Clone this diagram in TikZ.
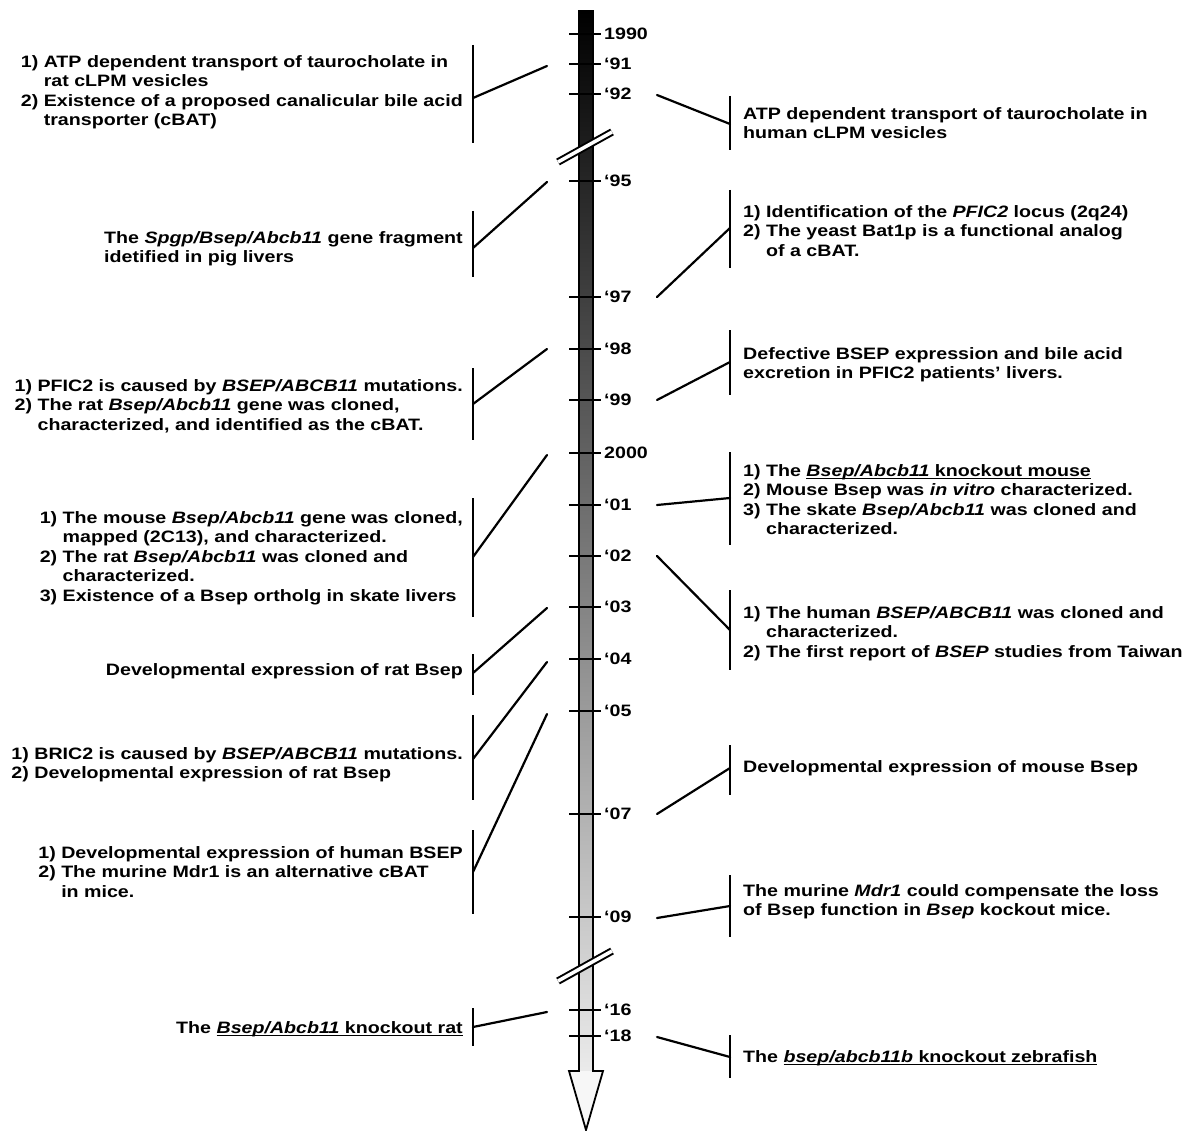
\documentclass[tikz,border=0pt]{standalone}
\usepackage{fontspec}
\setmainfont{Liberation Sans}[FakeStretch=1.19]
% underline drawn at a fixed depth below the baseline
\newcommand\ulbar[1]{\leavevmode\setbox0=\hbox{#1}\rlap{\rule[-3pt]{\wd0}{1.5pt}}\box0}
% hanging indent for continuation lines of numbered items
\newcommand\ind{\hphantom{1)\ }}
\begin{document}
\begin{tikzpicture}[x=1pt,y=-1pt,
  txt/.style={inner sep=0pt, align=left, font=\fontsize{16.5}{19.6}\selectfont\bfseries},
  lefttxt/.style={txt, anchor=north east},
  righttxt/.style={txt, anchor=north west},
  yearlab/.style={inner sep=0pt, anchor=west, font=\fontsize{16.5}{19.6}\selectfont\bfseries},
  tickmark/.style={line width=2.4pt},
  bracket/.style={line width=2.2pt},
  conn/.style={line width=2.2pt, line cap=round},
  breakmark/.style={line width=7.5pt},
  breakgap/.style={line width=3.5pt, white}
]
\useasboundingbox (0,0) rectangle (1198,1131);

% ---- time axis: shaded shaft and open arrow head ----
\shade[top color=black, bottom color=black!8] (579,11) rectangle (593,1071);
\fill[black!3] (569,1071) -- (586,1130) -- (603,1071) -- cycle;
\draw[line width=1.8pt, line join=miter]
  (579,11) -- (579,1071) -- (569,1071) -- (586,1130) -- (603,1071) -- (593,1071) -- (593,11) -- cycle;

% ---- axis breaks ----
\coordinate (bA1) at (558,162); \coordinate (bA2) at (612,132);
\coordinate (bB1) at (558,981); \coordinate (bB2) at (612,951);
\draw[breakmark] (bA1) -- (bA2);
\draw[breakgap] (bA1) -- (bA2);
\draw[breakmark] (bB1) -- (bB2);
\draw[breakgap] (bB1) -- (bB2);

% ---- year ticks and labels ----
\foreach \nm/\yy/\lab in {90/34/1990, 91/64/‘91, 92/94/‘92, 95/181/‘95, 97/297/‘97,
    98/349/‘98, 99/400/‘99, 00/453/2000, 01/505/‘01, 02/556/‘02, 03/607/‘03,
    04/659/‘04, 05/711/‘05, 07/814/‘07, 09/917/‘09, 16/1010/‘16, 18/1036/‘18}{
  \coordinate (t\nm) at (586,\yy);
  \draw[tickmark] ([xshift=-17pt]t\nm) -- ([xshift=15pt]t\nm);
  \node[yearlab] (y\nm) at ([xshift=18pt]t\nm) {\lab};
}

% ---- left-hand events ----
\node[lefttxt] (L1) at (463,55) {1) ATP dependent transport of taurocholate in\\
\ind rat cLPM vesicles\\
2) Existence of a proposed canalicular bile acid\\
\ind transporter (cBAT)};
\node[lefttxt] (L2) at (463,231) {The \textit{Spgp/Bsep/Abcb11} gene fragment\\
idetified in pig livers};
\node[lefttxt] (L3) at (463,379) {1) PFIC2 is caused by \textit{BSEP/ABCB11} mutations.\\
2) The rat \textit{Bsep/Abcb11} gene was cloned,\\
\ind characterized, and identified as the cBAT.};
\node[lefttxt] (L4) at (463,511) {1) The mouse \textit{Bsep/Abcb11} gene was cloned,\\
\ind mapped (2C13), and characterized.\\
2) The rat \textit{Bsep/Abcb11} was cloned and\\
\ind characterized.\\
3) Existence of a Bsep ortholg in skate livers};
\node[lefttxt] (L5) at (463,663) {Developmental expression of rat Bsep};
\node[lefttxt] (L6) at (463,747) {1) BRIC2 is caused by \textit{BSEP/ABCB11} mutations.\\
2) Developmental expression of rat Bsep};
\node[lefttxt] (L7) at (463,846) {1) Developmental expression of human BSEP\\
2) The murine Mdr1 is an alternative cBAT\\
\ind in mice.};
\node[lefttxt] (L8) at (463,1021) {The \ulbar{\textit{Bsep/Abcb11} knockout rat}};

% left brackets: top, bottom, joint, and end near the axis
\foreach \k/\ta/\bo/\jo/\ey in {1/45/143/98/66, 2/211/277/248/182, 3/368/440/404/349,
    4/498/617/557/455, 5/654/695/673/608, 6/715/800/759/662, 7/830/914/872/714,
    8/1008/1046/1027/1012}{
  \coordinate (Lt\k) at (473,\ta);
  \coordinate (Lb\k) at (473,\bo);
  \coordinate (Lj\k) at (473,\jo);
  \coordinate (Le\k) at (547,\ey);
  \draw[bracket] (Lt\k) -- (Lb\k);
  \draw[conn] (Lj\k) -- (Le\k);
}

% ---- right-hand events ----
\node[righttxt] (R1) at (743,107) {ATP dependent transport of taurocholate in\\
human cLPM vesicles};
\node[righttxt] (R2) at (743,205) {1) Identification of the \textit{PFIC2} locus (2q24)\\
2) The yeast Bat1p is a functional analog\\
\ind of a cBAT.};
\node[righttxt] (R3) at (743,347) {Defective BSEP expression and bile acid\\
excretion in PFIC2 patients’ livers.};
\node[righttxt] (R4) at (743,464) {1) The \ulbar{\textit{Bsep/Abcb11} knockout mouse}\\
2) Mouse Bsep was \textit{in vitro} characterized.\\
3) The skate \textit{Bsep/Abcb11} was cloned and\\
\ind characterized.};
\node[righttxt] (R5) at (743,606) {1) The human \textit{BSEP/ABCB11} was cloned and\\
\ind characterized.\\
2) The first report of \textit{BSEP} studies from Taiwan};
\node[righttxt] (R6) at (743,760) {Developmental expression of mouse Bsep};
\node[righttxt] (R7) at (743,884) {The murine \textit{Mdr1} could compensate the loss\\
of Bsep function in \textit{Bsep} kockout mice.};
\node[righttxt] (R8) at (743,1050) {The \ulbar{\textit{bsep/abcb11b} knockout zebrafish}};

% right brackets: top, bottom, joint, and start near the axis
\foreach \k/\ta/\bo/\jo/\sy in {1/96/150/124/95, 2/190/268/228/297, 3/330/395/362/400,
    4/452/545/498/505, 5/590/670/630/556, 6/745/795/768/814, 7/875/937/906/918,
    8/1035/1078/1057/1037}{
  \coordinate (Rt\k) at (730,\ta);
  \coordinate (Rb\k) at (730,\bo);
  \coordinate (Rj\k) at (730,\jo);
  \coordinate (Rs\k) at (657,\sy);
  \draw[bracket] (Rt\k) -- (Rb\k);
  \draw[conn] (Rs\k) -- (Rj\k);
}
\end{tikzpicture}
\end{document}
